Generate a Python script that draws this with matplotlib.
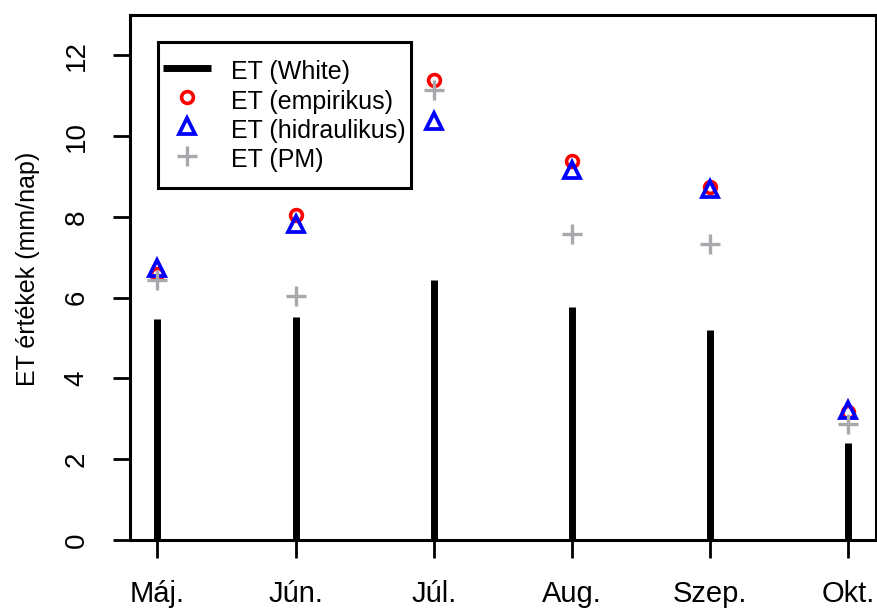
import matplotlib.pyplot as plt
import numpy as np
from matplotlib.patches import Rectangle

plt.rcParams['font.family'] = ['Liberation Sans', 'DejaVu Sans']

# Monthly evapotranspiration estimates (mm/nap)
months = ['Máj.', 'Jún.', 'Júl.', 'Aug.', 'Szep.', 'Okt.']
et_white = [5.46, 5.53, 6.44, 5.78, 5.20, 2.39]
et_empirikus = [6.58, 8.04, 11.40, 9.39, 8.75, 3.17]
et_hidraulikus = [6.73, 7.82, 10.38, 9.16, 8.70, 3.23]
et_pm = [6.44, 6.05, 11.14, 7.57, 7.34, 2.86]

x = np.arange(1, len(months) + 1)

fig = plt.figure(figsize=(8.77, 6.09), dpi=100)
ax = fig.add_axes([0.148, 0.1133, 0.851, 0.8621])

# "h" style vertical bars for the White method
ax.vlines(x, 0, et_white, colors='black', linewidth=5, capstyle='butt',
          label='ET (White)', zorder=2)
ax.plot(x, et_empirikus, linestyle='none', marker='o', markersize=8.5,
        markerfacecolor='none', markeredgecolor='red', markeredgewidth=2.6,
        label='ET (empirikus)', zorder=3)
ax.plot(x, et_hidraulikus, linestyle='none', marker='^', markersize=11.5,
        markerfacecolor='none', markeredgecolor='blue', markeredgewidth=2.7,
        label='ET (hidraulikus)', zorder=4)
ax.plot(x, et_pm, linestyle='none', marker='+', markersize=14,
        markeredgecolor='#a9a9ad', markeredgewidth=2.4,
        label='ET (PM)', zorder=5)

ax.set_xlim(0.8, 6.2)
ax.set_ylim(0, 13)
ax.set_xticks(x)
ax.set_xticklabels(months, fontsize=21)
ax.set_yticks(np.arange(0, 13, 2))
ax.set_yticklabels([str(v) for v in range(0, 13, 2)], fontsize=20,
                   rotation=90, va='center')
ax.tick_params(axis='x', length=13, width=2, pad=16)
ax.tick_params(axis='y', length=12, width=2, pad=17)
ax.set_ylabel('ET értékek (mm/nap)', fontsize=18)
ax.yaxis.set_label_coords(-0.1206, 0.516)

for side in ['top', 'left', 'bottom', 'right']:
    ax.spines[side].set_linewidth(2.2)
    ax.spines[side].set_color('black')

# legend without its own frame; a taller box is drawn around it below
pad_y = 9 / 525
leg = ax.legend(loc='upper left', bbox_to_anchor=(0.0375, 0.9486 - pad_y),
                fontsize=18, frameon=False, borderpad=0.22, labelspacing=0.0,
                handleheight=1.42, handlelength=1.92, handletextpad=0.8,
                borderaxespad=0)

fig.canvas.draw()
bb = leg.get_window_extent().transformed(ax.transAxes.inverted())
ax.add_patch(Rectangle((bb.x0, bb.y0 - pad_y), bb.width, bb.height + 2 * pad_y,
                       transform=ax.transAxes, fill=False, edgecolor='black',
                       linewidth=2.2, zorder=6, clip_on=False))

fig.savefig('out.png', dpi=100)
